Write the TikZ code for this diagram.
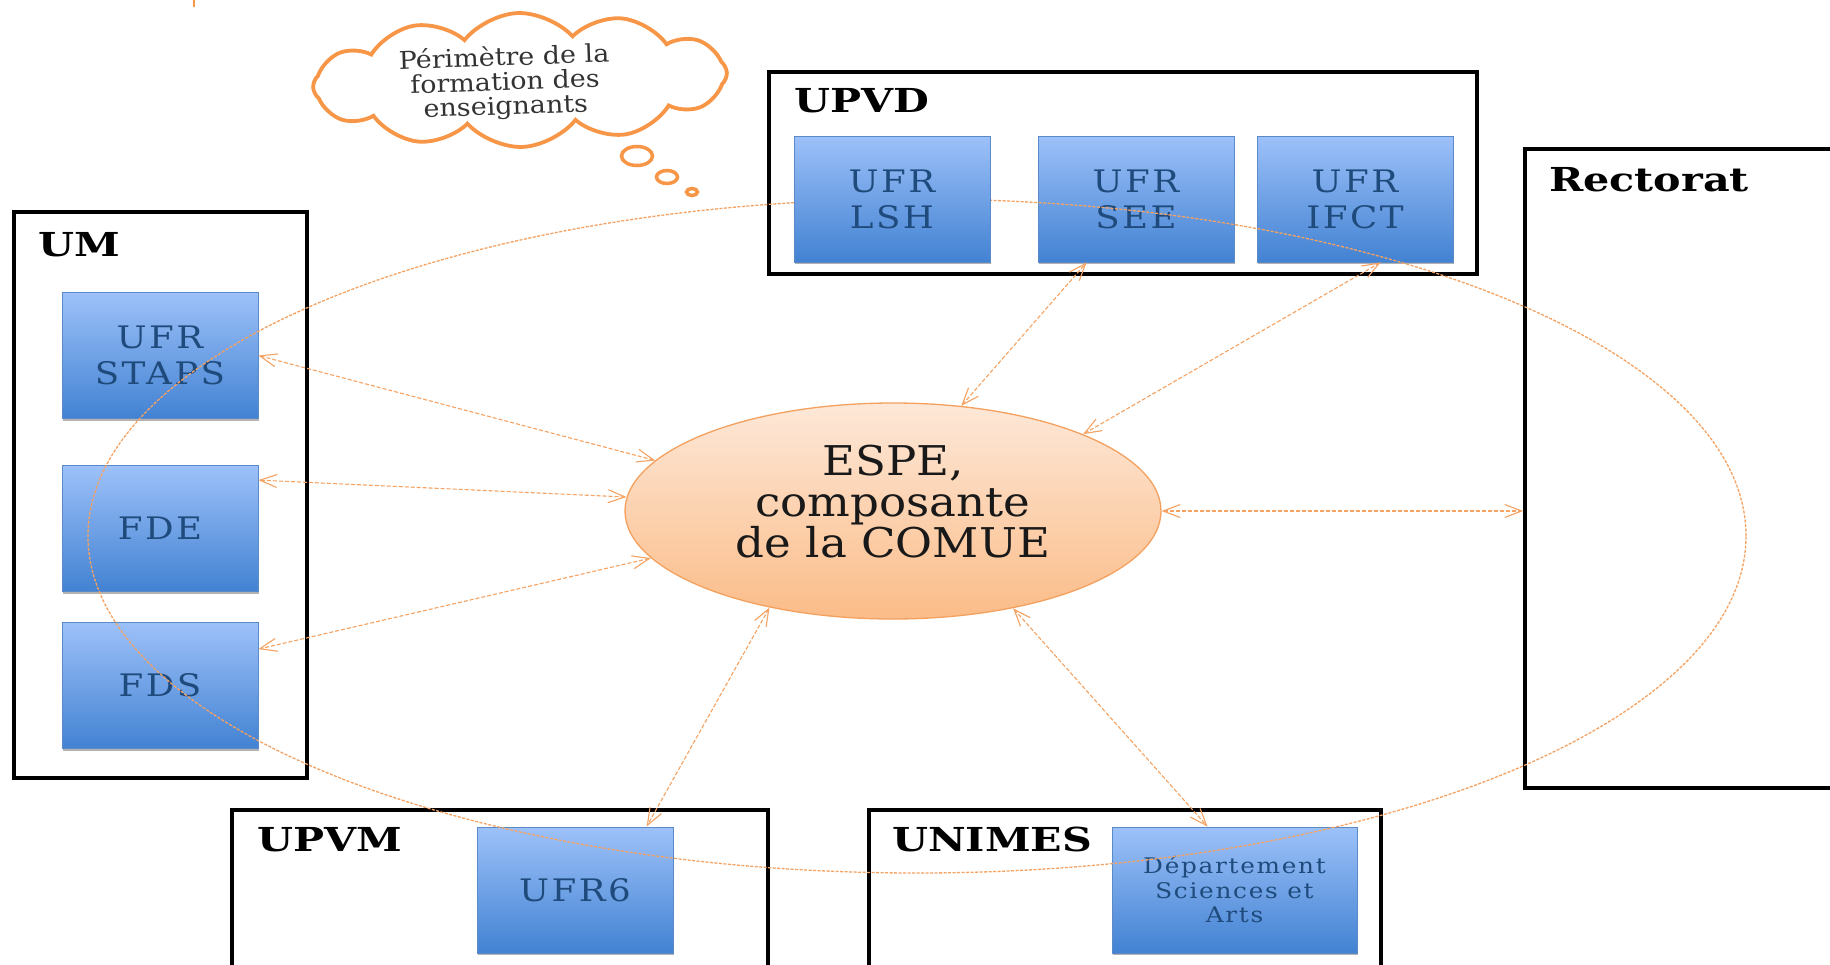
\documentclass[tikz,border=0pt]{standalone}
\usepackage{fontspec}
\usetikzlibrary{shapes.geometric,shapes.symbols,arrows.meta,calc,shadows}
\newfontfamily\espefont[FakeStretch=1.1]{DejaVu Serif}
\newfontfamily\ufrfont[FakeStretch=1.15,LetterSpace=8]{DejaVu Serif}
\newfontfamily\labfont[FakeStretch=1.25]{DejaVu Serif}
\newfontfamily\cloudfont[FakeStretch=1.1]{DejaVu Serif}
\definecolor{boxtop}{HTML}{9DC1F9}
\definecolor{boxbot}{HTML}{4282D2}
\definecolor{boxline}{HTML}{5A8AC8}
\definecolor{boxtext}{HTML}{1F4A7C}
\definecolor{ornline}{HTML}{F79646}
\definecolor{linkcol}{HTML}{F5A262}
\definecolor{espetop}{HTML}{FDE8D8}
\definecolor{espebot}{HTML}{FBBC88}
\definecolor{espeline}{HTML}{F4A05E}
\begin{document}
\begin{tikzpicture}[x=1pt,y=-1pt,
  ufr/.style={rectangle, draw=boxline, line width=0.8pt, top color=boxtop, bottom color=boxbot,
    text=boxtext, align=center, inner sep=0pt, minimum width=196pt, minimum height=126pt,
    font=\ufrfont\fontsize{31}{36}\selectfont,
    drop shadow={shadow xshift=1pt, shadow yshift=-2pt, opacity=0.3, fill=black}},
  org/.style={rectangle, draw=black, line width=3.5pt, inner sep=0pt},
  orglabel/.style={anchor=base west, inner sep=0pt, font=\labfont\bfseries\fontsize{33}{36}\selectfont},
  link/.style={draw=linkcol, line width=1.1pt, dash pattern=on 4pt off 2pt,
    {Straight Barb[length=17pt,width=13pt]}-{Straight Barb[length=17pt,width=13pt]}},
  bubble/.style={ellipse, draw=ornline, line width=3.5pt, fill=white, inner sep=0pt}
]
\useasboundingbox (0,0) rectangle (1830,964);
\clip (0,0) rectangle (1830,964);
\fill[white] (0,0) rectangle (1830,964);

% small mark at the top
\draw[ornline, line width=2pt] (194,0) -- (194,7);

% containers
\node[org, minimum width=293pt, minimum height=566pt] (um) at (160.5,495) {};
\node[org, minimum width=708pt, minimum height=202pt] (upvd) at (1123,173) {};
\node[org, minimum width=350pt, minimum height=639pt] (rectorat) at (1700,468.5) {};
\node[org, minimum width=536pt, minimum height=190pt] (upvm) at (500,905) {};
\node[org, minimum width=512pt, minimum height=190pt] (unimes) at (1125,905) {};

\node[orglabel] (umlab) at (38,256) {UM};
\node[orglabel] (upvdlab) at (794,112) {UPVD};
\node[orglabel] (rectlab) at (1549,191) {Rectorat};
\node[orglabel] (upvmlab) at (257,851) {UPVM};
\node[orglabel] (unimeslab) at (892,851) {UNIMES};

% components
\node[ufr] (staps) at (160,355.5) {UFR\\STAPS};
\node[ufr] (fde) at (160,528.5) {FDE};
\node[ufr] (fds) at (160,685.5) {FDS};
\node[ufr] (see) at (1136,199) {UFR\\SEE};
\node[ufr] (ifct) at (1355,199) {UFR\\IFCT};
\node[ufr] (ufr6) at (575,890) {UFR6};
\node[ufr, minimum width=245pt, font=\ufrfont\fontsize{21.5}{24.5}\selectfont] (dept) at (1234.5,890) {Département\\Sciences et\\Arts};

% ESPE
\node[ellipse, draw=espeline, line width=1.3pt, top color=espetop, bottom color=espebot,
  minimum width=536pt, minimum height=216pt] (espe) at (893,511) {};
\node[align=center, inner sep=0pt, text=black!90, font=\espefont\fontsize{41}{41}\selectfont] (espetxt) at (893,502) {ESPE,\\composante\\de la COMUE};

% links
\draw[link] (espe.168.9) -- (staps.east);
\draw[link] (espe.177) -- ($(fde.north east)+(0,15)$);
\draw[link] (espe.191) -- ($(fds.north east)+(0,27)$);
\draw[link] (espe.57) -- ($(see.south west)+(49,0)$);
\draw[link] (espe.22.4) -- ($(ifct.south west)+(124,0)$);
\draw[link] (espe.east) -- (espe.east -| rectorat.west);
\draw[link] (espe.218.7) -- ($(ufr6.north west)+(170,0)$);
\draw[link] (espe.321.3) -- ($(dept.north west)+(96,0)$);

% perimeter
\node[ellipse, draw=linkcol, line width=1.3pt, dash pattern=on 3pt off 1.5pt,
  minimum width=1658pt, minimum height=674pt, inner sep=0pt] (perim) at (917,536) {};

\node[ufr] (lsh) at (892,199) {UFR\\LSH};

% thought cloud
\node[cloud, cloud puffs=12, cloud puff arc=100, aspect=3.1, draw=ornline, line width=3.8pt,
  fill=white, minimum width=414pt, minimum height=134pt, inner sep=0pt, rotate=2] (cloud) at (520,80) {};
\node[align=center, inner sep=0pt, text=black!80, rotate=2, font=\cloudfont\fontsize{24.5}{24.5}\selectfont] (cloudtxt) at (505,83) {Périmètre de la\\formation des\\enseignants};
\node[bubble, minimum width=31pt, minimum height=19pt] (b1) at (637,156) {};
\node[bubble, minimum width=21pt, minimum height=13pt] (b2) at (667,177) {};
\node[bubble, minimum width=11pt, minimum height=7pt] (b3) at (692,192) {};
\end{tikzpicture}
\end{document}
